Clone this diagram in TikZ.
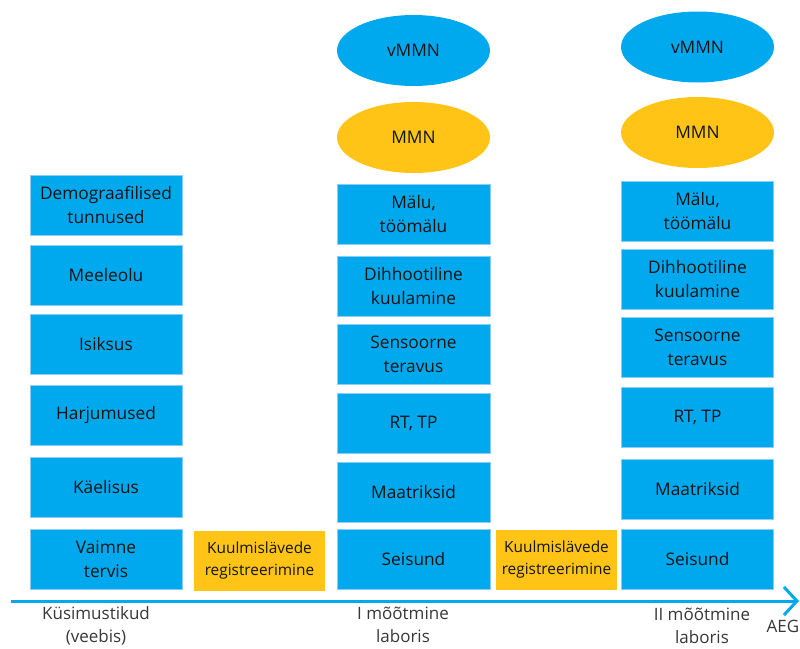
\documentclass[tikz,border=0pt]{standalone}
\usepackage{fontspec}
\setmainfont{Open Sans}
\usetikzlibrary{shapes.geometric,arrows.meta}

\definecolor{sinine}{RGB}{0,169,238}
\definecolor{kollane}{RGB}{255,196,22}
\definecolor{tekst}{RGB}{20,20,20}

\tikzset{
	blok/.style={rectangle,fill=sinine,draw={rgb,255:red,140;green,205;blue,245},line width=0.6pt,minimum width=152pt,minimum height=60pt,align=center,text=tekst,font=\fontsize{17.3}{24}\selectfont,inner sep=0pt},
	kuulmis/.style={rectangle,fill=kollane,minimum height=60pt,align=center,text=tekst,font=\fontsize{15.4}{22}\selectfont,inner sep=0pt},
	ovaal/.style={ellipse,fill=#1,minimum width=153pt,minimum height=71pt,text=tekst,font=\fontsize{17.3}{24}\selectfont,inner sep=0pt},
	silt/.style={align=center,text=tekst!85,font=\fontsize{17}{23}\selectfont,inner sep=0pt},
	telg/.style={draw=sinine,line width=3pt,-{Straight Barb[length=13pt,width=28pt,line width=3pt]}}
}

\begin{document}
\begin{tikzpicture}[x=1pt,y=-1pt]
				\useasboundingbox (0,0) rectangle (800,648);

				% kusimustikud
				\draw (106,205) node[blok] (demo) {Demograafilised\\tunnused};
				\draw (106,275) node[blok] (meeleolu) {Meeleolu};
				\draw (106,344) node[blok] (isiksus) {Isiksus};
				\draw (106,415) node[blok] (harjumused) {Harjumused};
				\draw (106,487) node[blok] (kaelisus) {Käelisus};
				\draw (106,559) node[blok] (vaimne) {Vaimne\\tervis};

				\draw (259.5,560.5) node[kuulmis,minimum width=131pt] (kuulmisA) {Kuulmislävede\\registreerimine};

				% I mootmine
				\draw (413.5,50.5) node[ovaal=sinine] (vmmnA) {vMMN};
				\draw (413.5,137.5) node[ovaal=kollane] (mmnA) {MMN};
				\draw (413.5,214.5) node[blok,minimum width=153pt] (maluA) {Mälu,\\töömälu};
				\draw (413.5,286) node[blok,minimum width=153pt] (dihhA) {Dihhootiline\\kuulamine};
				\draw (413.5,354.5) node[blok,minimum width=153pt] (sensA) {Sensoorne\\teravus};
				\draw (413.5,423) node[blok,minimum width=153pt] (rtA) {RT, TP};
				\draw (413.5,492) node[blok,minimum width=153pt] (maatA) {Maatriksid};
				\draw (413.5,559.5) node[blok,minimum width=153pt] (seisA) {Seisund};

				\draw (556.5,559.5) node[kuulmis,minimum width=121pt] (kuulmisB) {Kuulmislävede\\registreerimine};

				% II mootmine
				\draw (697.5,47) node[ovaal=sinine] (vmmnB) {vMMN};
				\draw (697.5,132.5) node[ovaal=kollane] (mmnB) {MMN};
				\draw (697.5,211.5) node[blok] (maluB) {Mälu,\\töömälu};
				\draw (697.5,279) node[blok] (dihhB) {Dihhootiline\\kuulamine};
				\draw (697.5,347.5) node[blok] (sensB) {Sensoorne\\teravus};
				\draw (697.5,417) node[blok] (rtB) {RT, TP};
				\draw (697.5,489) node[blok] (maatB) {Maatriksid};
				\draw (697.5,559) node[blok] (seisB) {Seisund};

				% ajatelg
				\coordinate (algus) at (11,601);
				\coordinate (lopp) at (799,601);
				\draw[telg] (algus) -- (lopp);

				\draw (96,626) node[silt] (kusimus) {Küsimustikud\\(veebis)};
				\draw (403,625) node[silt] (labA) {I mõõtmine\\laboris};
				\draw (702,626) node[silt] (labB) {II mõõtmine\\laboris};
				\draw (783,626) node[silt] (aeg) {AEG};
			\end{tikzpicture}
\end{document}
